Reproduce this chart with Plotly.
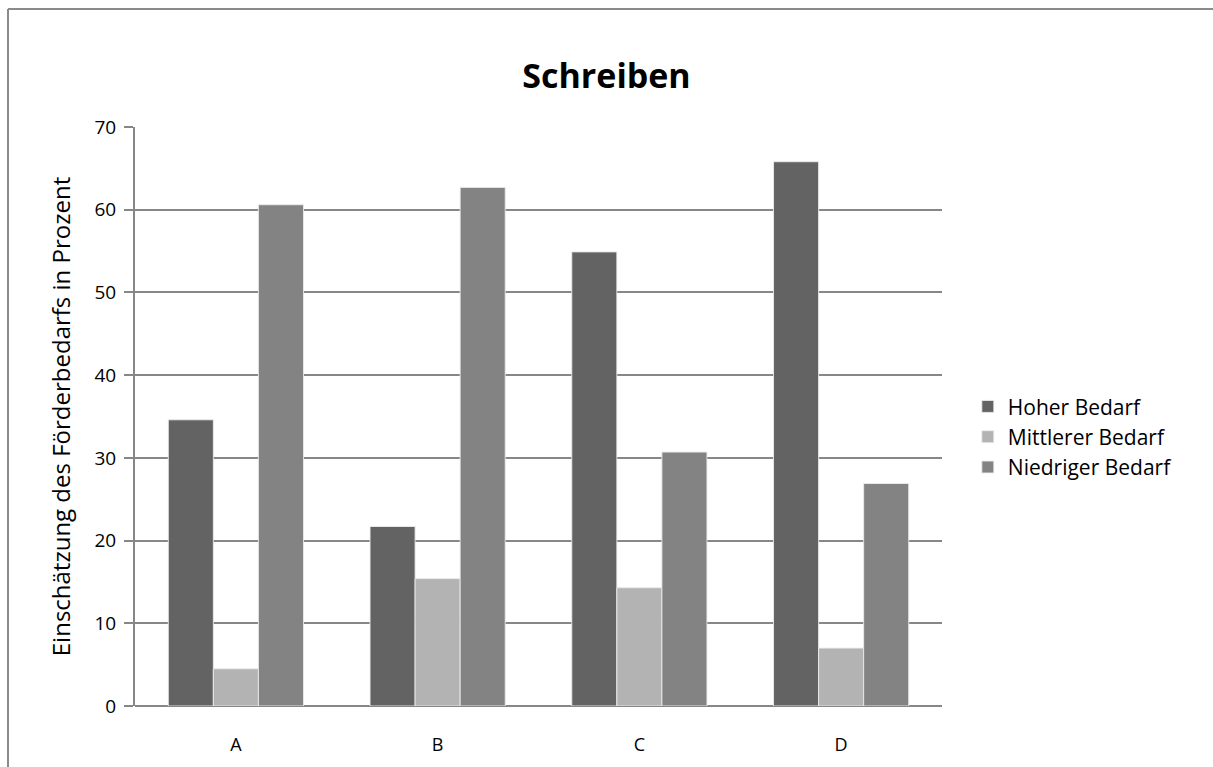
import plotly.graph_objects as go

categories = ["A", "B", "C", "D"]
hoher = [34.6, 21.7, 54.9, 65.8]
mittlerer = [4.5, 15.4, 14.3, 7.0]
niedriger = [60.6, 62.7, 30.7, 26.9]
y_ticks = [0, 10, 20, 30, 40, 50, 60, 70]

FONT = "Open Sans"
GRID = "#878787"

fig = go.Figure()
series = [
    ("Hoher Bedarf", hoher, "#636363"),
    ("Mittlerer Bedarf", mittlerer, "#b3b3b3"),
    ("Niedriger Bedarf", niedriger, "#838383"),
]
for name, vals, col in series:
    fig.add_trace(go.Bar(
        x=categories, y=vals, name=name,
        marker=dict(color=col, line=dict(color="rgba(235,235,235,0.9)", width=1)),
    ))

fig.update_layout(
    width=1213, height=767,
    margin=dict(l=135, r=271, t=127, b=61),
    paper_bgcolor="white", plot_bgcolor="white",
    barmode="group", bargap=0.33, bargroupgap=0,
    font=dict(family=FONT, color="black", size=18),
    title=dict(text="<b>Schreiben</b>", x=0.5, xanchor="center",
               y=0.901, yanchor="middle",
               font=dict(family=FONT, size=34, color="black")),
    legend=dict(x=1.032, y=0.465, xanchor="left", yanchor="middle",
                font=dict(family=FONT, size=21, color="black"),
                tracegroupgap=0, itemwidth=30),
    showlegend=True,
)
fig.update_xaxes(showgrid=False, showline=False, ticks="",
                 tickfont=dict(size=18), ticklabelstandoff=26,
                 fixedrange=True)
fig.update_yaxes(range=[0, 70], tickvals=y_ticks, showgrid=True,
                 gridcolor=GRID, gridwidth=2, zeroline=True,
                 zerolinecolor=GRID, zerolinewidth=2,
                 showline=True, linecolor=GRID, linewidth=2,
                 ticks="outside", ticklen=9, tickcolor=GRID, tickwidth=2,
                 tickfont=dict(size=19), ticklabelstandoff=4,
                 title=dict(text="Einschätzung des Förderbedarfs in Prozent",
                            font=dict(size=24), standoff=17))

# chart frame along the left and top edges
fig.add_shape(type="line", xref="paper", yref="paper",
              x0=(8 - 135) / 807, x1=(8 - 135) / 807,
              y0=-0.2, y1=1 + (127 - 9) / 579,
              line=dict(color="#8a8a8a", width=2))
fig.add_shape(type="line", xref="paper", yref="paper",
              x0=(8 - 135) / 807, x1=1.4,
              y0=1 + (127 - 9) / 579, y1=1 + (127 - 9) / 579,
              line=dict(color="#8a8a8a", width=2))

fig.write_html("out.html")
